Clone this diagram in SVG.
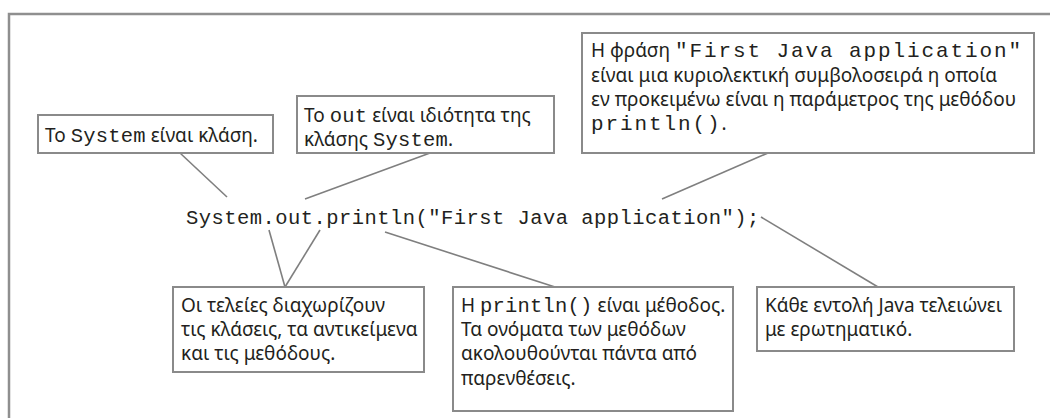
<svg xmlns="http://www.w3.org/2000/svg" width="1050" height="418" viewBox="0 0 1050 418">
<style>
.box{fill:#fff;stroke:#8a8a8a;stroke-width:2}
.frame{fill:none;stroke:#8f8f8f;stroke-width:2.5}
.con line{stroke:#7f7f7f;stroke-width:1.6}
.t{font-family:"Noto Sans","Open Sans",sans-serif;font-size:19px;fill:#231f20}
.m{font-family:"Liberation Mono","DejaVu Sans Mono",monospace;font-size:20.5px;letter-spacing:0.2px}
.m2{font-family:"Liberation Mono","DejaVu Sans Mono",monospace;font-size:21px;letter-spacing:1.9px}
.code{font-family:"Liberation Mono","DejaVu Sans Mono",monospace;font-size:20.5px;letter-spacing:0.45px;fill:#231f20}
</style>
<rect width="1050" height="418" fill="#fff"/>
<path class="frame" d="M9,418 V14 H1050"/>
<g class="con">
<line x1="180" y1="153" x2="227" y2="197"/>
<line x1="430" y1="153" x2="305" y2="199"/>
<line x1="768" y1="153" x2="662" y2="199"/>
<line x1="269" y1="230" x2="285" y2="287"/>
<line x1="320" y1="230" x2="285" y2="287"/>
<line x1="385" y1="232" x2="555" y2="287"/>
<line x1="761" y1="217" x2="878" y2="287"/>
</g>
<text class="code" x="186" y="224">System.out.println("First Java application");</text>
<g id="n1">
<rect class="box" x="38" y="115" width="235" height="38"/>
<text class="t" x="45" y="142">Το <tspan class="m">System</tspan> είναι κλάση.</text>
</g>
<g id="n2">
<rect class="box" x="297" y="96" width="257" height="57"/>
<text class="t" x="304" y="122">Το <tspan class="m">out</tspan> είναι ιδιότητα της</text>
<text class="t" x="304" y="146">κλάσης <tspan class="m">System</tspan>.</text>
</g>
<g id="n3">
<rect class="box" x="582" y="33" width="452" height="120"/>
<text class="t" x="591" y="57">Η φράση <tspan class="m2">"First Java application"</tspan></text>
<text class="t" x="591" y="82">είναι μια κυριολεκτική συμβολοσειρά η οποία</text>
<text class="t" x="591" y="106">εν προκειμένω είναι η παράμετρος της μεθόδου</text>
<text class="t" x="591" y="130"><tspan class="m2">println()</tspan>.</text>
</g>
<g id="n4">
<rect class="box" x="173" y="287" width="251" height="85"/>
<text class="t" x="181" y="312">Οι τελείες διαχωρίζουν</text>
<text class="t" x="181" y="336">τις κλάσεις, τα αντικείμενα</text>
<text class="t" x="181" y="360">και τις μεθόδους.</text>
</g>
<g id="n5">
<rect class="box" x="453" y="287" width="280" height="124"/>
<text class="t" x="461" y="312">Η <tspan class="m">println()</tspan> είναι μέθοδος.</text>
<text class="t" x="461" y="336">Τα ονόματα των μεθόδων</text>
<text class="t" x="461" y="360">ακολουθούνται πάντα από</text>
<text class="t" x="461" y="385">παρενθέσεις.</text>
</g>
<g id="n6">
<rect class="box" x="757" y="287" width="257" height="64"/>
<text class="t" x="765" y="312">Κάθε εντολή Java τελειώνει</text>
<text class="t" x="765" y="336">με ερωτηματικό.</text>
</g>
</svg>
